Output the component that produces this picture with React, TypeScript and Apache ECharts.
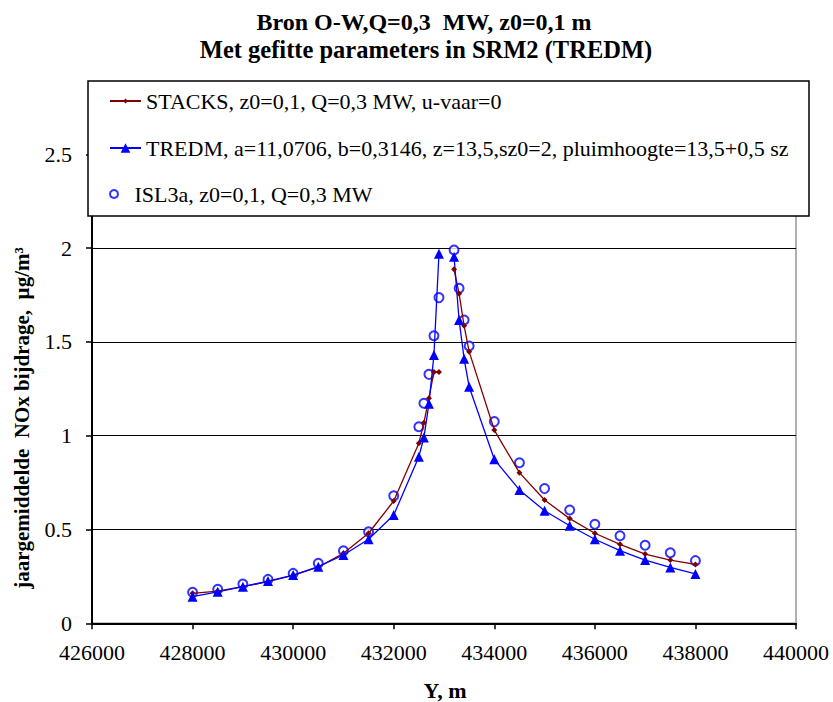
import { useEffect, useRef } from "react";
import * as echarts from "echarts";

const nameStacks = "STACKS, z0=0,1, Q=0,3 MW, u-vaar=0";
const nameTredm = "TREDM, a=11,0706, b=0,3146, z=13,5,sz0=2, pluimhoogte=13,5+0,5 sz";
const nameIsl = "ISL3a, z0=0,1, Q=0,3 MW";

const titleLine1 = "Bron O-W,Q=0,3  MW, z0=0,1 m";
const titleLine2 = "Met gefitte parameters in SRM2 (TREDM)";
const xTitle = "Y, m";
const yTitle = "jaargemiddelde  NOx bijdrage,  µg/m³";

// Y positions (m) left of the source and right of the source
const xLeft = [428000, 428500, 429000, 429500, 430000, 430500, 431000, 431500, 432000, 432500, 432600, 432700, 432800, 432900];
const xRight = [433200, 433300, 433400, 433500, 434000, 434500, 435000, 435500, 436000, 436500, 437000, 437500, 438000];
const gapX = 433050;

const stacksLeft = [0.16, 0.172, 0.195, 0.222, 0.255, 0.3, 0.373, 0.48, 0.652, 0.96, 1.069, 1.2, 1.34, 1.34];
const stacksRight = [1.887, 1.757, 1.586, 1.448, 1.03, 0.803, 0.657, 0.558, 0.48, 0.421, 0.369, 0.337, 0.314];

const tredmLeft = [0.142, 0.168, 0.195, 0.225, 0.257, 0.302, 0.364, 0.448, 0.577, 0.888, 0.99, 1.17, 1.43, 1.97];
const tredmRight = [1.954, 1.617, 1.41, 1.261, 0.874, 0.711, 0.6, 0.52, 0.448, 0.387, 0.337, 0.298, 0.263];

const islLeft = [0.165, 0.181, 0.209, 0.234, 0.266, 0.32, 0.387, 0.488, 0.68, 1.048, 1.173, 1.327, 1.533, 1.736];
const islRight = [1.99, 1.786, 1.617, 1.478, 1.075, 0.856, 0.718, 0.604, 0.528, 0.467, 0.416, 0.376, 0.334];

const FONT = "Liberation Serif";

function pairs(xs: number[], ys: number[]) {
  return xs.map((x, i) => [x, ys[i]]);
}

function withGap(l: any[], r: any[]) {
  return [...l, [gapX, "-"], ...r];
}

export default function App() {
  const ref = useRef<HTMLDivElement>(null);
  useEffect(() => {
    if (!ref.current) return;
    const chart = echarts.init(ref.current, undefined, { renderer: "svg" });
    const legendBase = {
      orient: "vertical",
      left: 109,
      padding: 0,
      itemWidth: 31,
      itemGap: 5,
      selectedMode: false,
      textStyle: { fontFamily: FONT, fontSize: 22, color: "#000", lineHeight: 22, padding: [0, 0, 0, 0] },
    };
    const titleStyle = (text: string, size: number) => ({
      text,
      fontFamily: FONT,
      fontSize: size,
      fontWeight: "bold",
      fill: "#000",
      align: "center",
      verticalAlign: "middle",
      textAlign: "center",
      textVerticalAlign: "middle",
    });
    chart.setOption({
      animation: false,
      backgroundColor: "#fff",
      textStyle: { fontFamily: FONT },
      grid: {
        left: 92,
        right: 37,
        top: 98,
        bottom: 78.7,
        show: true,
        borderColor: "#b0b0b0",
        borderWidth: 2,
        containLabel: false,
        outerBoundsMode: "none",
      },
      xAxis: {
        type: "value",
        min: 426000,
        max: 440000,
        interval: 2000,
        axisLine: { show: true, onZero: false, lineStyle: { color: "#000", width: 2 } },
        axisTick: { show: true, length: 6, lineStyle: { color: "#000", width: 1.5 } },
        splitLine: { show: false },
        axisLabel: {
          margin: 18,
          fontFamily: FONT,
          fontSize: 22,
          color: "#000",
          formatter: (v: number) => String(v),
        },
      },
      yAxis: {
        type: "value",
        min: 0,
        max: 2.8,
        interval: 0.5,
        axisLine: { show: true, lineStyle: { color: "#000", width: 2 } },
        axisTick: { show: true, length: 6, lineStyle: { color: "#000", width: 1.5 } },
        splitLine: { show: true, lineStyle: { color: "#000", width: 1 } },
        axisLabel: {
          margin: 20,
          fontFamily: FONT,
          fontSize: 22,
          color: "#000",
          showMaxLabel: false,
        },
      },
      legend: [
        { ...legendBase, top: 90, itemHeight: 6, data: [{ name: nameStacks }] },
        { ...legendBase, top: 137, itemHeight: 12, data: [{ name: nameTredm }] },
        { ...legendBase, top: 183, itemHeight: 8, data: [{ name: nameIsl }] },
      ],
      graphic: [
        {
          type: "rect",
          z: 3,
          shape: { x: 88, y: 81, width: 721, height: 135 },
          style: { fill: "#fff", stroke: "#000", lineWidth: 1.5 },
        },
        { type: "text", x: 424, y: 22, style: titleStyle(titleLine1, 24) },
        { type: "text", x: 426, y: 49, style: titleStyle(titleLine2, 24.5) },
        { type: "text", x: 445, y: 690, style: titleStyle(xTitle, 22) },
        { type: "text", x: 22, y: 418, rotation: Math.PI / 2, style: titleStyle(yTitle, 21) },
      ],
      series: [
        {
          name: nameStacks,
          type: "line",
          data: withGap(pairs(xLeft, stacksLeft), pairs(xRight, stacksRight)),
          connectNulls: false,
          symbol: "diamond",
          symbolSize: 6,
          showAllSymbol: true,
          lineStyle: { color: "#800000", width: 1.3 },
          itemStyle: { color: "#800000" },
        },
        {
          name: nameTredm,
          type: "line",
          data: withGap(pairs(xLeft, tredmLeft), pairs(xRight, tredmRight)),
          connectNulls: false,
          symbol: "triangle",
          symbolSize: 10,
          showAllSymbol: true,
          lineStyle: { color: "#0000ff", width: 1.3 },
          itemStyle: { color: "#0000ff" },
        },
        {
          name: nameIsl,
          type: "scatter",
          data: [...pairs(xLeft, islLeft), ...pairs(xRight, islRight)],
          symbol: "emptyCircle",
          symbolSize: 9,
          itemStyle: { color: "#0000ff", borderColor: "#0000ff", borderWidth: 1.2 },
        },
      ],
    });
    return () => chart.dispose();
  }, []);
  return (
    <div
      ref={ref}
      style={{ position: "fixed", left: 0, top: 0, width: 833, height: 702, background: "#fff" }}
    />
  );
}
